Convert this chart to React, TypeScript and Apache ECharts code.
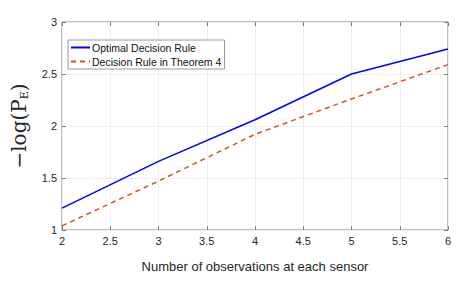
import React, { useEffect, useRef } from "react";
import * as echarts from "echarts";

const xValues = [2, 3, 4, 5, 6];
const optimal = [1.21, 1.66, 2.06, 2.5, 2.74];
const theorem4 = [1.04, 1.47, 1.92, 2.26, 2.59];
const seriesNames = ["Optimal Decision Rule", "Decision Rule in Theorem 4"];

export default function App() {
  const ref = useRef<HTMLDivElement>(null);
  useEffect(() => {
    if (!ref.current) return;
    const chart = echarts.init(ref.current, null, { renderer: "svg" });
    const font = "Liberation Sans, Arial, Helvetica, sans-serif";
    const axisColor = "#808080";
    const labelColor = "#262626";
    chart.setOption({
      animation: false,
      backgroundColor: "#ffffff",
      grid: { left: 62, right: 23, top: 22, bottom: 62, show: true, borderColor: axisColor, borderWidth: 1 },
      legend: {
        left: 68,
        top: 40,
        orient: "vertical",
        itemGap: 3,
        itemWidth: 19,
        itemHeight: 10,
        padding: [2, 3, 2, 2],
        borderColor: "#999",
        borderWidth: 1,
        backgroundColor: "#fff",
        borderRadius: 0,
        itemStyle: { opacity: 0 },
        textStyle: { fontFamily: font, fontSize: 10.5, color: "#111", padding: [0, 0, 0, -3] },
        data: seriesNames,
      },
      xAxis: [
        {
          type: "value",
          min: 2,
          max: 6,
          interval: 0.5,
          name: "Number of observations at each sensor",
          nameLocation: "middle",
          nameGap: 30,
          nameTextStyle: { fontFamily: font, fontSize: 13, color: labelColor },
          axisLine: { show: false },
          axisTick: { show: true, inside: true, length: 4, lineStyle: { color: axisColor } },
          axisLabel: { fontFamily: font, fontSize: 11, color: labelColor, margin: 5 },
          splitLine: { show: true, lineStyle: { color: "#efefef", width: 1 } },
        },
        {
          type: "value",
          position: "top",
          min: 2,
          max: 6,
          interval: 0.5,
          axisLine: { show: false },
          axisTick: { show: true, inside: true, length: 4, lineStyle: { color: axisColor } },
          axisLabel: { show: false },
          splitLine: { show: false },
        },
      ],
      yAxis: [
        {
          type: "value",
          min: 1,
          max: 3,
          interval: 0.5,
          name: "{a|−log(P}{b|E}{a|)}",
          nameLocation: "middle",
          nameRotate: 90,
          nameGap: 32,
          nameTextStyle: {
            rich: {
              a: { fontFamily: "DejaVu Serif, Liberation Serif, serif", fontSize: 20, color: labelColor },
              b: { fontFamily: "DejaVu Serif, Liberation Serif, serif", fontSize: 11, color: labelColor, padding: [12, 0, 0, 0] },
            },
          },
          axisLine: { show: false },
          axisTick: { show: true, inside: true, length: 4, lineStyle: { color: axisColor } },
          axisLabel: { fontFamily: font, fontSize: 11, color: labelColor, margin: 5 },
          splitLine: { show: true, lineStyle: { color: "#efefef", width: 1 } },
        },
        {
          type: "value",
          position: "right",
          min: 1,
          max: 3,
          interval: 0.5,
          axisLine: { show: false },
          axisTick: { show: true, inside: true, length: 4, lineStyle: { color: axisColor } },
          axisLabel: { show: false },
          splitLine: { show: false },
        },
      ],
      series: [
        {
          name: seriesNames[0],
          type: "line",
          data: xValues.map((x, i) => [x, optimal[i]]),
          showSymbol: false,
          symbol: "none",
          lineStyle: { color: "#0000ff", width: 1.5 },
          itemStyle: { color: "#0000ff" },
        },
        {
          name: seriesNames[1],
          type: "line",
          data: xValues.map((x, i) => [x, theorem4[i]]),
          showSymbol: false,
          symbol: "none",
          lineStyle: { color: "#d95319", width: 1.5, type: [5, 4] },
          itemStyle: { color: "#d95319" },
        },
      ],
    });
    return () => chart.dispose();
  }, []);
  return <div ref={ref} style={{ width: 471, height: 292, position: "absolute", left: 0, top: 0 }} />;
}
